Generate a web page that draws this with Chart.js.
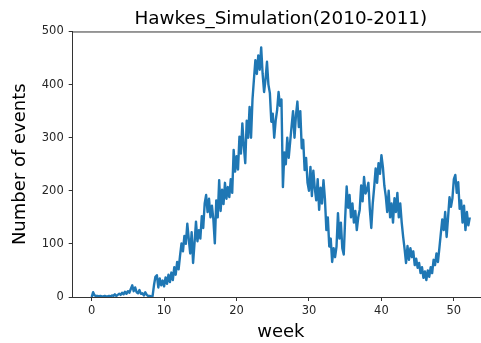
<!DOCTYPE html>
<html>
<head>
<meta charset="utf-8">
<script src="https://cdn.jsdelivr.net/npm/chart.js@4.4.1/dist/chart.umd.min.js"></script>
<style>
  html, body { margin: 0; padding: 0; background: #fff; overflow: hidden; }
  #wrap { width: 481px; height: 343px; overflow: hidden; position: relative; }
  /* canvas is a bit wider than the window: the right spine falls just outside, as in the source image */
  canvas { display: block; }
</style>
</head>
<body>
<div id="wrap"><canvas id="c" width="489" height="343"></canvas></div>
<script>
  const STEP = 0.2;
  const counts = [
    0, 9, 3, 2, 2,       1, 2, 1, 1, 2,       1, 1, 2, 1, 3,       2, 5, 2, 4, 6,
    4, 8, 5, 10, 6,      11, 8, 15, 22, 11,   18, 9, 7, 13, 6,     7, 3, 9, 4, 2,
    2, 1, 1, 22, 38,     41, 18, 35, 22, 31,  20, 37, 25, 42, 28,  46, 32, 56, 42, 66,
    52, 78, 101, 86, 115,   100, 138, 110, 82, 122,  64, 102, 142, 105, 126,  110, 152, 130, 176, 192,
    160, 185, 150, 172, 146, 101, 182, 150, 220, 162, 202, 175, 215, 185, 207, 188, 222, 196, 277, 236,
    265, 240, 302, 270, 327, 284, 252, 332, 300, 358, 300, 372, 410, 446, 420, 455, 428, 470, 420, 386,
    410, 443, 400, 384, 330, 345, 300, 332, 352, 386, 360, 372, 207, 272, 250, 300, 262, 292, 322, 350,
    300, 342, 368, 320, 350, 280, 296, 239, 262, 215, 200, 245, 190, 238, 205, 182, 222, 164, 206, 176,
    220, 185, 126, 150, 95,  110, 66, 92, 75, 95,    158, 110, 140, 92, 80,   150, 208, 168, 192, 150,
    176, 140, 162, 126, 150, 164, 210, 180, 226, 195, 202, 215, 165, 130, 176, 207, 242, 215, 252, 232,
    267, 245, 210, 190, 160, 200, 150, 176, 140, 186, 160, 196, 150, 176, 140, 113, 90, 64, 96, 70,
    92, 75, 86, 60, 72,      55, 64, 45, 56, 36,      48, 32, 50, 38, 56,      45, 70, 60, 82, 66,
    92, 120, 146, 126, 160,  113, 150, 188, 170, 186, 222, 230, 196, 216, 166, 182, 140, 172, 126, 160,
    135, 150
  ];
  const weeks = counts.map((_, i) => +(i * STEP).toFixed(1));

  const xTicks = [0, 10, 20, 30, 40, 50];
  const yTicks = [0, 100, 200, 300, 400, 500];

  const TITLE = "Hawkes_Simulation(2010-2011)";
  const X_LABEL = "week";
  const Y_LABEL = "Number of events";

  const FONT = "'DejaVu Sans', 'Liberation Sans', sans-serif";
  const INK = "#262626";
  const SPINE = "#333";

  // matplotlib-like box: close the frame on top and right
  const frame = {
    id: "frame",
    afterDraw(chart) {
      const { ctx, chartArea: a } = chart;
      ctx.save();
      ctx.strokeStyle = SPINE;
      ctx.lineWidth = 1;
      ctx.beginPath();
      ctx.moveTo(a.left, a.top + 0.5);
      ctx.lineTo(a.right, a.top + 0.5);
      ctx.moveTo(a.right - 0.5, a.top);
      ctx.lineTo(a.right - 0.5, a.bottom);
      ctx.stroke();
      ctx.restore();
    }
  };

  new Chart(document.getElementById("c"), {
    type: "line",
    data: {
      datasets: [{
        data: weeks.map((w, i) => ({ x: w, y: counts[i] })),
        borderColor: "#1f77b4",
        borderWidth: 2.4,
        borderJoinStyle: "round",
        pointRadius: 0,
        tension: 0,
        fill: false,
      }]
    },
    options: {
      responsive: false,
      animation: false,
      devicePixelRatio: 1,
      layout: { padding: 0 },
      plugins: {
        legend: { display: false },
        tooltip: { enabled: false },
        title: {
          display: true,
          text: TITLE,
          fullSize: false,
          color: "#000",
          font: { family: FONT, size: 18.4, weight: "normal" },
          padding: { top: 8, bottom: 1.4 },
        },
      },
      scales: {
        x: {
          type: "linear",
          min: -2.62,
          max: 54.85,
          afterBuildTicks: s => { s.ticks = xTicks.map(v => ({ value: v })); },
          afterFit: s => { s.height = 46; },
          grid: { drawOnChartArea: false, drawTicks: true, tickLength: 4, tickColor: SPINE },
          border: { display: true, color: SPINE, width: 1 },
          ticks: { color: INK, padding: 3, maxRotation: 0, font: { family: FONT, size: 11.5 } },
          title: { display: true, text: X_LABEL, color: "#000", font: { family: FONT, size: 18 }, padding: { top: 0, bottom: 0 } },
        },
        y: {
          type: "linear",
          min: 0,
          max: 500,
          afterBuildTicks: s => { s.ticks = yTicks.map(v => ({ value: v })); },
          afterFit: s => { s.width = 72.7; },
          grid: { drawOnChartArea: false, drawTicks: true, tickLength: 4, tickColor: SPINE },
          border: { display: true, color: SPINE, width: 1 },
          ticks: { color: INK, padding: 5, font: { family: FONT, size: 11.5 } },
          title: { display: true, text: Y_LABEL, color: "#000", font: { family: FONT, size: 18 }, padding: { top: 10, bottom: 0 } },
        },
      },
    },
    plugins: [frame],
  });
</script>
</body>
</html>
